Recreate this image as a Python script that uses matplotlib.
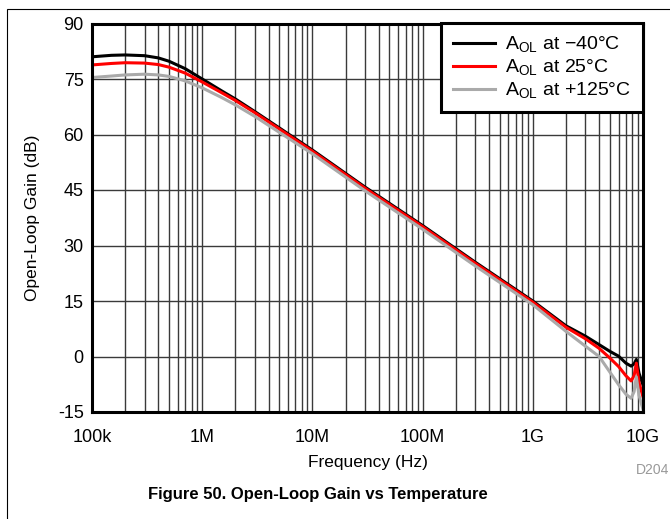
import numpy as np
import matplotlib
matplotlib.use('Agg')
import matplotlib.pyplot as plt
from matplotlib.ticker import FixedLocator, NullFormatter
from matplotlib.patches import Rectangle

plt.rcParams['font.family'] = ['Liberation Sans', 'DejaVu Sans']
plt.rcParams['mathtext.fontset'] = 'custom'
plt.rcParams['mathtext.rm'] = 'Liberation Sans'
plt.rcParams['axes.unicode_minus'] = False

# frequency points (Hz)
freq = [1e5, 1.5e5, 2e5, 3e5, 4e5, 5e5, 7e5, 1e6, 1.5e6, 2e6, 3e6, 5e6, 1e7,
        3e7, 1e8, 3e8, 1e9, 2e9, 3e9, 4e9, 5e9, 6e9, 7e9, 7.8e9, 8.3e9,
        8.7e9, 9.2e9, 1e10]

gain_m40 = [81.0, 81.4, 81.5, 81.3, 80.7, 79.8, 77.8, 75.0, 71.8, 69.6, 66.2,
            61.8, 55.8, 45.8, 35.4, 25.5, 15.0, 8.3, 5.5, 3.2, 1.4, 0.1, -1.8,
            -2.6, -2.0, -0.8, -4.5, -7.7]
gain_25 = [78.8, 79.2, 79.4, 79.3, 78.9, 78.2, 76.6, 74.2, 71.3, 69.2, 65.9,
           61.5, 55.5, 45.5, 35.1, 25.2, 14.7, 7.9, 4.8, 2.2, -0.4, -2.7, -5.2,
           -6.6, -5.2, -1.8, -7.0, -10.9]
gain_125 = [75.4, 75.8, 76.1, 76.3, 76.1, 75.7, 74.5, 72.6, 70.0, 68.0, 64.9,
            60.6, 54.8, 44.8, 34.4, 24.5, 14.0, 6.8, 2.8, 0.0, -4.2, -7.6,
            -10.2, -11.3, -9.5, -5.5, -10.5, -14.3]

labels = [r'A$_{\mathrm{OL}}$ at $-$40°C', r'A$_{\mathrm{OL}}$ at 25°C',
          r'A$_{\mathrm{OL}}$ at +125°C']
colors = ['black', '#ff0000', '#aaaaaa']

x_ticks = [1e5, 1e6, 1e7, 1e8, 1e9, 1e10]
x_labels = ['100k', '1M', '10M', '100M', '1G', '10G']
y_ticks = [-15, 0, 15, 30, 45, 60, 75, 90]

fig = plt.figure(figsize=(6.7, 5.19), dpi=100)
ax = fig.add_axes([92/670, 1-412/519, (643-92)/670, (412-23.5)/519])

for g, c, lab in zip([gain_m40, gain_25, gain_125], colors, labels):
    ax.plot(freq, g, color=c, lw=2.2, label=lab, zorder=3)

ax.set_xscale('log')
ax.set_xlim(1e5, 1e10)
ax.set_ylim(-15, 90)
ax.set_xticks(x_ticks)
ax.set_xticklabels(x_labels)
ax.xaxis.set_minor_locator(FixedLocator(
    [m*10**e for e in range(5, 10) for m in range(2, 10)]))
ax.xaxis.set_minor_formatter(NullFormatter())
ax.set_yticks(y_ticks)
ax.tick_params(which='both', length=0, labelsize=13)
ax.tick_params(axis='x', pad=12.5)
ax.tick_params(axis='y', pad=6)
ax.grid(True, which='both', axis='x', color='#3a3a3a', lw=1.0)
ax.grid(True, which='major', axis='y', color='#3a3a3a', lw=1.0)
for s in ax.spines.values():
    s.set_linewidth(2.2)
    s.set_zorder(5)

ax.set_xlabel('Frequency (Hz)', fontsize=12.5, labelpad=6)
ax.set_ylabel('Open-Loop Gain (dB)', fontsize=12.5, labelpad=13)

leg = ax.legend(loc='upper right', borderaxespad=0, fancybox=False,
                edgecolor='black', fontsize=14, handlelength=2.15,
                handletextpad=0.55, labelspacing=0.12, borderpad=0.6,
                framealpha=1)
leg.get_frame().set_linewidth(2.2)
leg.set_zorder(6)

fig.text(636/670, 1-470/519, 'D204', color='#999999', fontsize=10,
         ha='left', va='center')
fig.text(318/670, 1-495/519, 'Figure 50. Open-Loop Gain vs Temperature',
         fontsize=12, fontweight='bold', ha='center', va='center')

fig.patches.append(Rectangle((7/670, -0.1), 1.2, 1 - 9/519 + 0.1,
                             transform=fig.transFigure, fill=False,
                             edgecolor='black', lw=0.8))

fig.savefig('out.png', dpi=100)
